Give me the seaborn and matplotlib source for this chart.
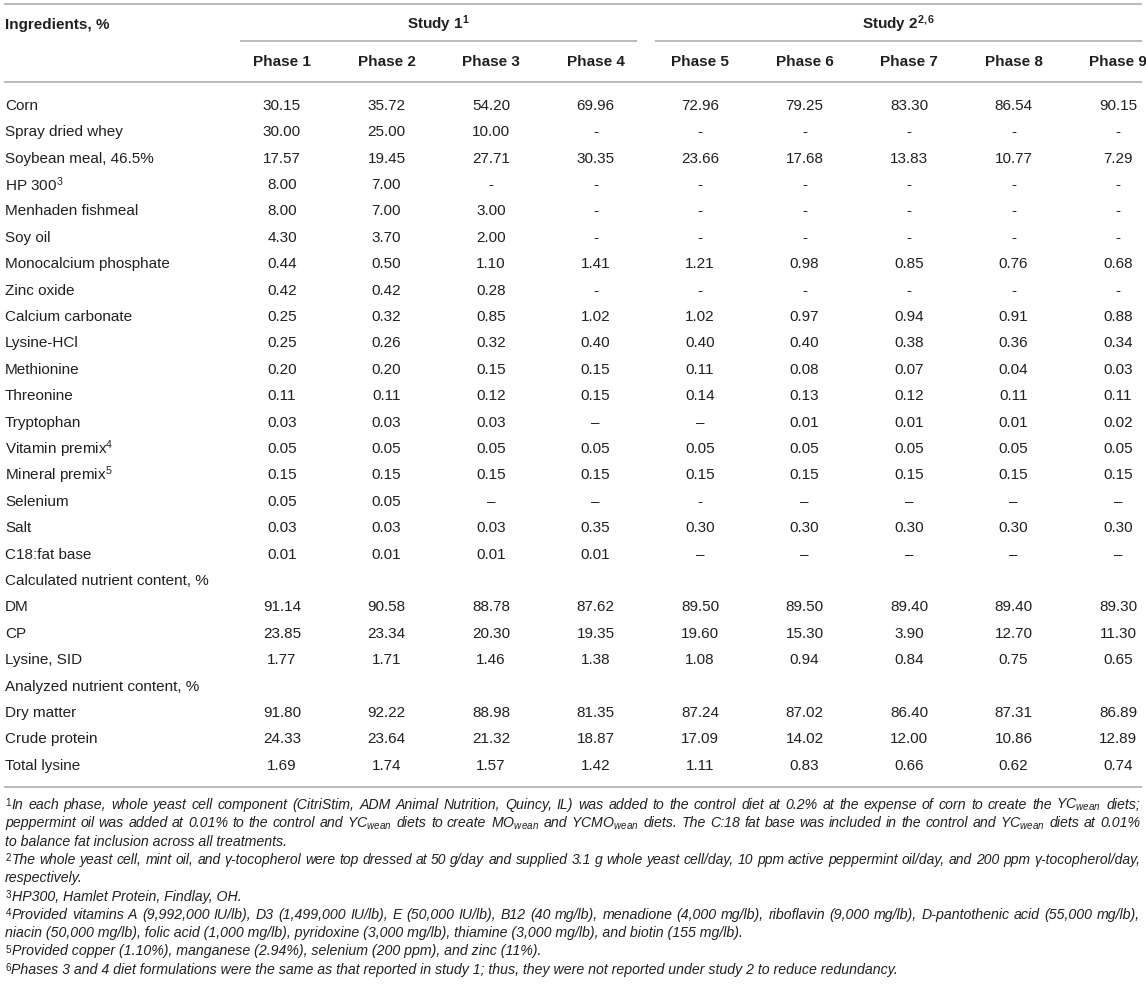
import re
import numpy as np
import seaborn as sns
import matplotlib.pyplot as plt
from matplotlib.colors import ListedColormap

# table content, one list per row (Phase 1 ... Phase 9)
phases = ['Phase 1', 'Phase 2', 'Phase 3', 'Phase 4', 'Phase 5',
          'Phase 6', 'Phase 7', 'Phase 8', 'Phase 9']
row_labels = ['Corn', 'Spray dried whey', 'Soybean meal, 46.5%', 'HP 300$^{3}$',
              'Menhaden fishmeal', 'Soy oil', 'Monocalcium phosphate', 'Zinc oxide',
              'Calcium carbonate', 'Lysine-HCl', 'Methionine', 'Threonine',
              'Tryptophan', 'Vitamin premix$^{4}$', 'Mineral premix$^{5}$', 'Selenium',
              'Salt', 'C18:fat base', 'Calculated nutrient content, %', 'DM', 'CP',
              'Lysine, SID', 'Analyzed nutrient content, %', 'Dry matter',
              'Crude protein', 'Total lysine']

corn = ['30.15', '35.72', '54.20', '69.96', '72.96', '79.25', '83.30', '86.54', '90.15']
whey = ['30.00', '25.00', '10.00', '-', '-', '-', '-', '-', '-']
soybean = ['17.57', '19.45', '27.71', '30.35', '23.66', '17.68', '13.83', '10.77', '7.29']
hp300 = ['8.00', '7.00', '-', '-', '-', '-', '-', '-', '-']
fishmeal = ['8.00', '7.00', '3.00', '-', '-', '-', '-', '-', '-']
soy_oil = ['4.30', '3.70', '2.00', '-', '-', '-', '-', '-', '-']
monocal = ['0.44', '0.50', '1.10', '1.41', '1.21', '0.98', '0.85', '0.76', '0.68']
zinc = ['0.42', '0.42', '0.28', '-', '-', '-', '-', '-', '-']
calcium = ['0.25', '0.32', '0.85', '1.02', '1.02', '0.97', '0.94', '0.91', '0.88']
lys_hcl = ['0.25', '0.26', '0.32', '0.40', '0.40', '0.40', '0.38', '0.36', '0.34']
methionine = ['0.20', '0.20', '0.15', '0.15', '0.11', '0.08', '0.07', '0.04', '0.03']
threonine = ['0.11', '0.11', '0.12', '0.15', '0.14', '0.13', '0.12', '0.11', '0.11']
tryptophan = ['0.03', '0.03', '0.03', '\u2013', '\u2013', '0.01', '0.01', '0.01', '0.02']
vit_premix = ['0.05'] * 9
min_premix = ['0.15'] * 9
selenium = ['0.05', '0.05', '\u2013', '\u2013', '-', '\u2013', '\u2013', '\u2013', '\u2013']
salt = ['0.03', '0.03', '0.03', '0.35', '0.30', '0.30', '0.30', '0.30', '0.30']
c18 = ['0.01', '0.01', '0.01', '0.01', '\u2013', '\u2013', '\u2013', '\u2013', '\u2013']
calc_head = [''] * 9
dm = ['91.14', '90.58', '88.78', '87.62', '89.50', '89.50', '89.40', '89.40', '89.30']
cp = ['23.85', '23.34', '20.30', '19.35', '19.60', '15.30', '3.90', '12.70', '11.30']
lys_sid = ['1.77', '1.71', '1.46', '1.38', '1.08', '0.94', '0.84', '0.75', '0.65']
anal_head = [''] * 9
dry_matter = ['91.80', '92.22', '88.98', '81.35', '87.24', '87.02', '86.40', '87.31', '86.89']
crude_prot = ['24.33', '23.64', '21.32', '18.87', '17.09', '14.02', '12.00', '10.86', '12.89']
total_lys = ['1.69', '1.74', '1.57', '1.42', '1.11', '0.83', '0.66', '0.62', '0.74']

rows = [corn, whey, soybean, hp300, fishmeal, soy_oil, monocal, zinc, calcium,
        lys_hcl, methionine, threonine, tryptophan, vit_premix, min_premix,
        selenium, salt, c18, calc_head, dm, cp, lys_sid, anal_head, dry_matter,
        crude_prot, total_lys]

wean = '$_{wean}$'
footnotes = [
    ('$^{1}$In each phase, whole yeast cell component (CitriStim, ADM Animal Nutrition, '
     'Quincy, IL) was added to the control diet at 0.2% at the expense of corn to create '
     'the YC' + wean + ' diets;', True),
    ('peppermint oil was added at 0.01% to the control and YC' + wean + ' diets to create MO'
     + wean + ' and YCMO' + wean + ' diets. The C:18 fat base was included in the control and YC'
     + wean + ' diets at 0.01%', True),
    ('to balance fat inclusion across all treatments.', False),
    ('$^{2}$The whole yeast cell, mint oil, and \u03b3-tocopherol were top dressed at 50 g/day '
     'and supplied 3.1 g whole yeast cell/day, 10 ppm active peppermint oil/day, and 200 ppm '
     '\u03b3-tocopherol/day,', True),
    ('respectively.', False),
    ('$^{3}$HP300, Hamlet Protein, Findlay, OH.', False),
    ('$^{4}$Provided vitamins A (9,992,000 IU/lb), D3 (1,499,000 IU/lb), E (50,000 IU/lb), '
     'B12 (40 mg/lb), menadione (4,000 mg/lb), riboflavin (9,000 mg/lb), D-pantothenic acid '
     '(55,000 mg/lb),', True),
    ('niacin (50,000 mg/lb), folic acid (1,000 mg/lb), pyridoxine (3,000 mg/lb), thiamine '
     '(3,000 mg/lb), and biotin (155 mg/lb).', False),
    ('$^{5}$Provided copper (1.10%), manganese (2.94%), selenium (200 ppm), and zinc (11%).', False),
    ('$^{6}$Phases 3 and 4 diet formulations were the same as that reported in study 1; thus, '
     'they were not reported under study 2 to reduce redundancy.', False),
]

W, H = 1146, 999
ink = '#231f20'
rule = '#b4b4b4'

sns.set_theme(style='white')
plt.rcParams['font.family'] = ['Liberation Sans', 'DejaVu Sans']
plt.rcParams['mathtext.fontset'] = 'custom'
plt.rcParams['mathtext.rm'] = 'Liberation Sans'
plt.rcParams['mathtext.it'] = 'Liberation Sans:italic'
plt.rcParams['mathtext.bf'] = 'Liberation Sans:bold'

fig = plt.figure(figsize=(W / 100, H / 100), dpi=100)
fig.patch.set_facecolor('white')

# value grid drawn as an all-white heatmap with text annotations
col_w, row_h = 104.5, 26.4
x0, y0 = 229.75, 92.6
ax = fig.add_axes([x0 / W, 1 - (y0 + row_h * len(rows)) / H,
                   col_w * len(phases) / W, row_h * len(rows) / H])
sns.heatmap(np.zeros((len(rows), len(phases))), annot=np.array(rows), fmt='',
            cmap=ListedColormap(['white']), cbar=False, xticklabels=False,
            yticklabels=False, annot_kws={'fontsize': 11, 'color': ink}, ax=ax)

for i, lab in enumerate(row_labels):
    ax.text((5 - x0) / col_w, i + 0.5, lab, ha='left', va='center', fontsize=11, color=ink)
for j, ph in enumerate(phases):
    ax.text(j + 0.5, (62 - y0) / row_h, ph, ha='center', va='center', fontsize=11,
            fontweight='bold', color=ink)

# rules, group headers and footnotes on a pixel overlay
ov = fig.add_axes([0, 0, 1, 1])
ov.set_xlim(0, W)
ov.set_ylim(H, 0)
ov.axis('off')
for y, xa, xb in [(4, 4, 1142), (41, 240, 637), (41, 655, 1142), (82, 4, 1142), (787, 4, 1142)]:
    ov.plot([xa, xb], [y, y], color=rule, lw=1.3, solid_capstyle='butt')

ov.text(5, 24.5, 'Ingredients, %', ha='left', va='center', fontsize=11, fontweight='bold', color=ink)
ov.text((240 + 637) / 2, 29, 'Study 1$^{\\mathbf{1}}$', ha='center', va='baseline',
        fontsize=11, fontweight='bold', color=ink)
ov.text((655 + 1142) / 2, 29, 'Study 2$^{\\mathbf{2,6}}$', ha='center', va='baseline',
        fontsize=11, fontweight='bold', color=ink)

renderer = fig.canvas.get_renderer()
fn_size = 10.15
left, right = 5, 1140


def add_word(word, y, size):
    # a leading footnote marker is kept as its own piece
    pieces = [p for p in re.split(r'^(\$\^\{[^}]*\}\$)', word) if p]
    objs = [ov.text(0, y, p, ha='left', va='baseline', fontsize=size, style='italic', color=ink)
            for p in pieces]
    widths = [o.get_window_extent(renderer).width for o in objs]
    if len(pieces) > 1 and pieces[0].startswith('$^'):
        widths[0] -= 0.7  # tighten marker against its word
    return objs, widths


for k, (line, justify) in enumerate(footnotes):
    y = 809 + k * 18.3
    size = fn_size
    if not justify:
        # ragged lines keep natural spacing: one text, marker apart
        objs, ws = add_word(line, y, size)
        x = left
        for o, w in zip(objs, ws):
            o.set_x(x)
            x += w
        continue
    while True:
        words = [add_word(w, y, size) for w in line.split(' ')]
        total = sum(sum(ws) for _, ws in words)
        space = 0.278 * size * 100 / 72
        natural = total + space * (len(words) - 1)
        if natural > right - left + 1:
            for objs, _ in words:
                for o in objs:
                    o.remove()
            size *= (right - left) / natural
            continue
        break
    gap = (right - left - total) / (len(words) - 1)
    x = left
    for objs, ws in words:
        for o, w in zip(objs, ws):
            o.set_x(x)
            x += w
        x += gap

fig.savefig('out.png', dpi=100, facecolor='white')
